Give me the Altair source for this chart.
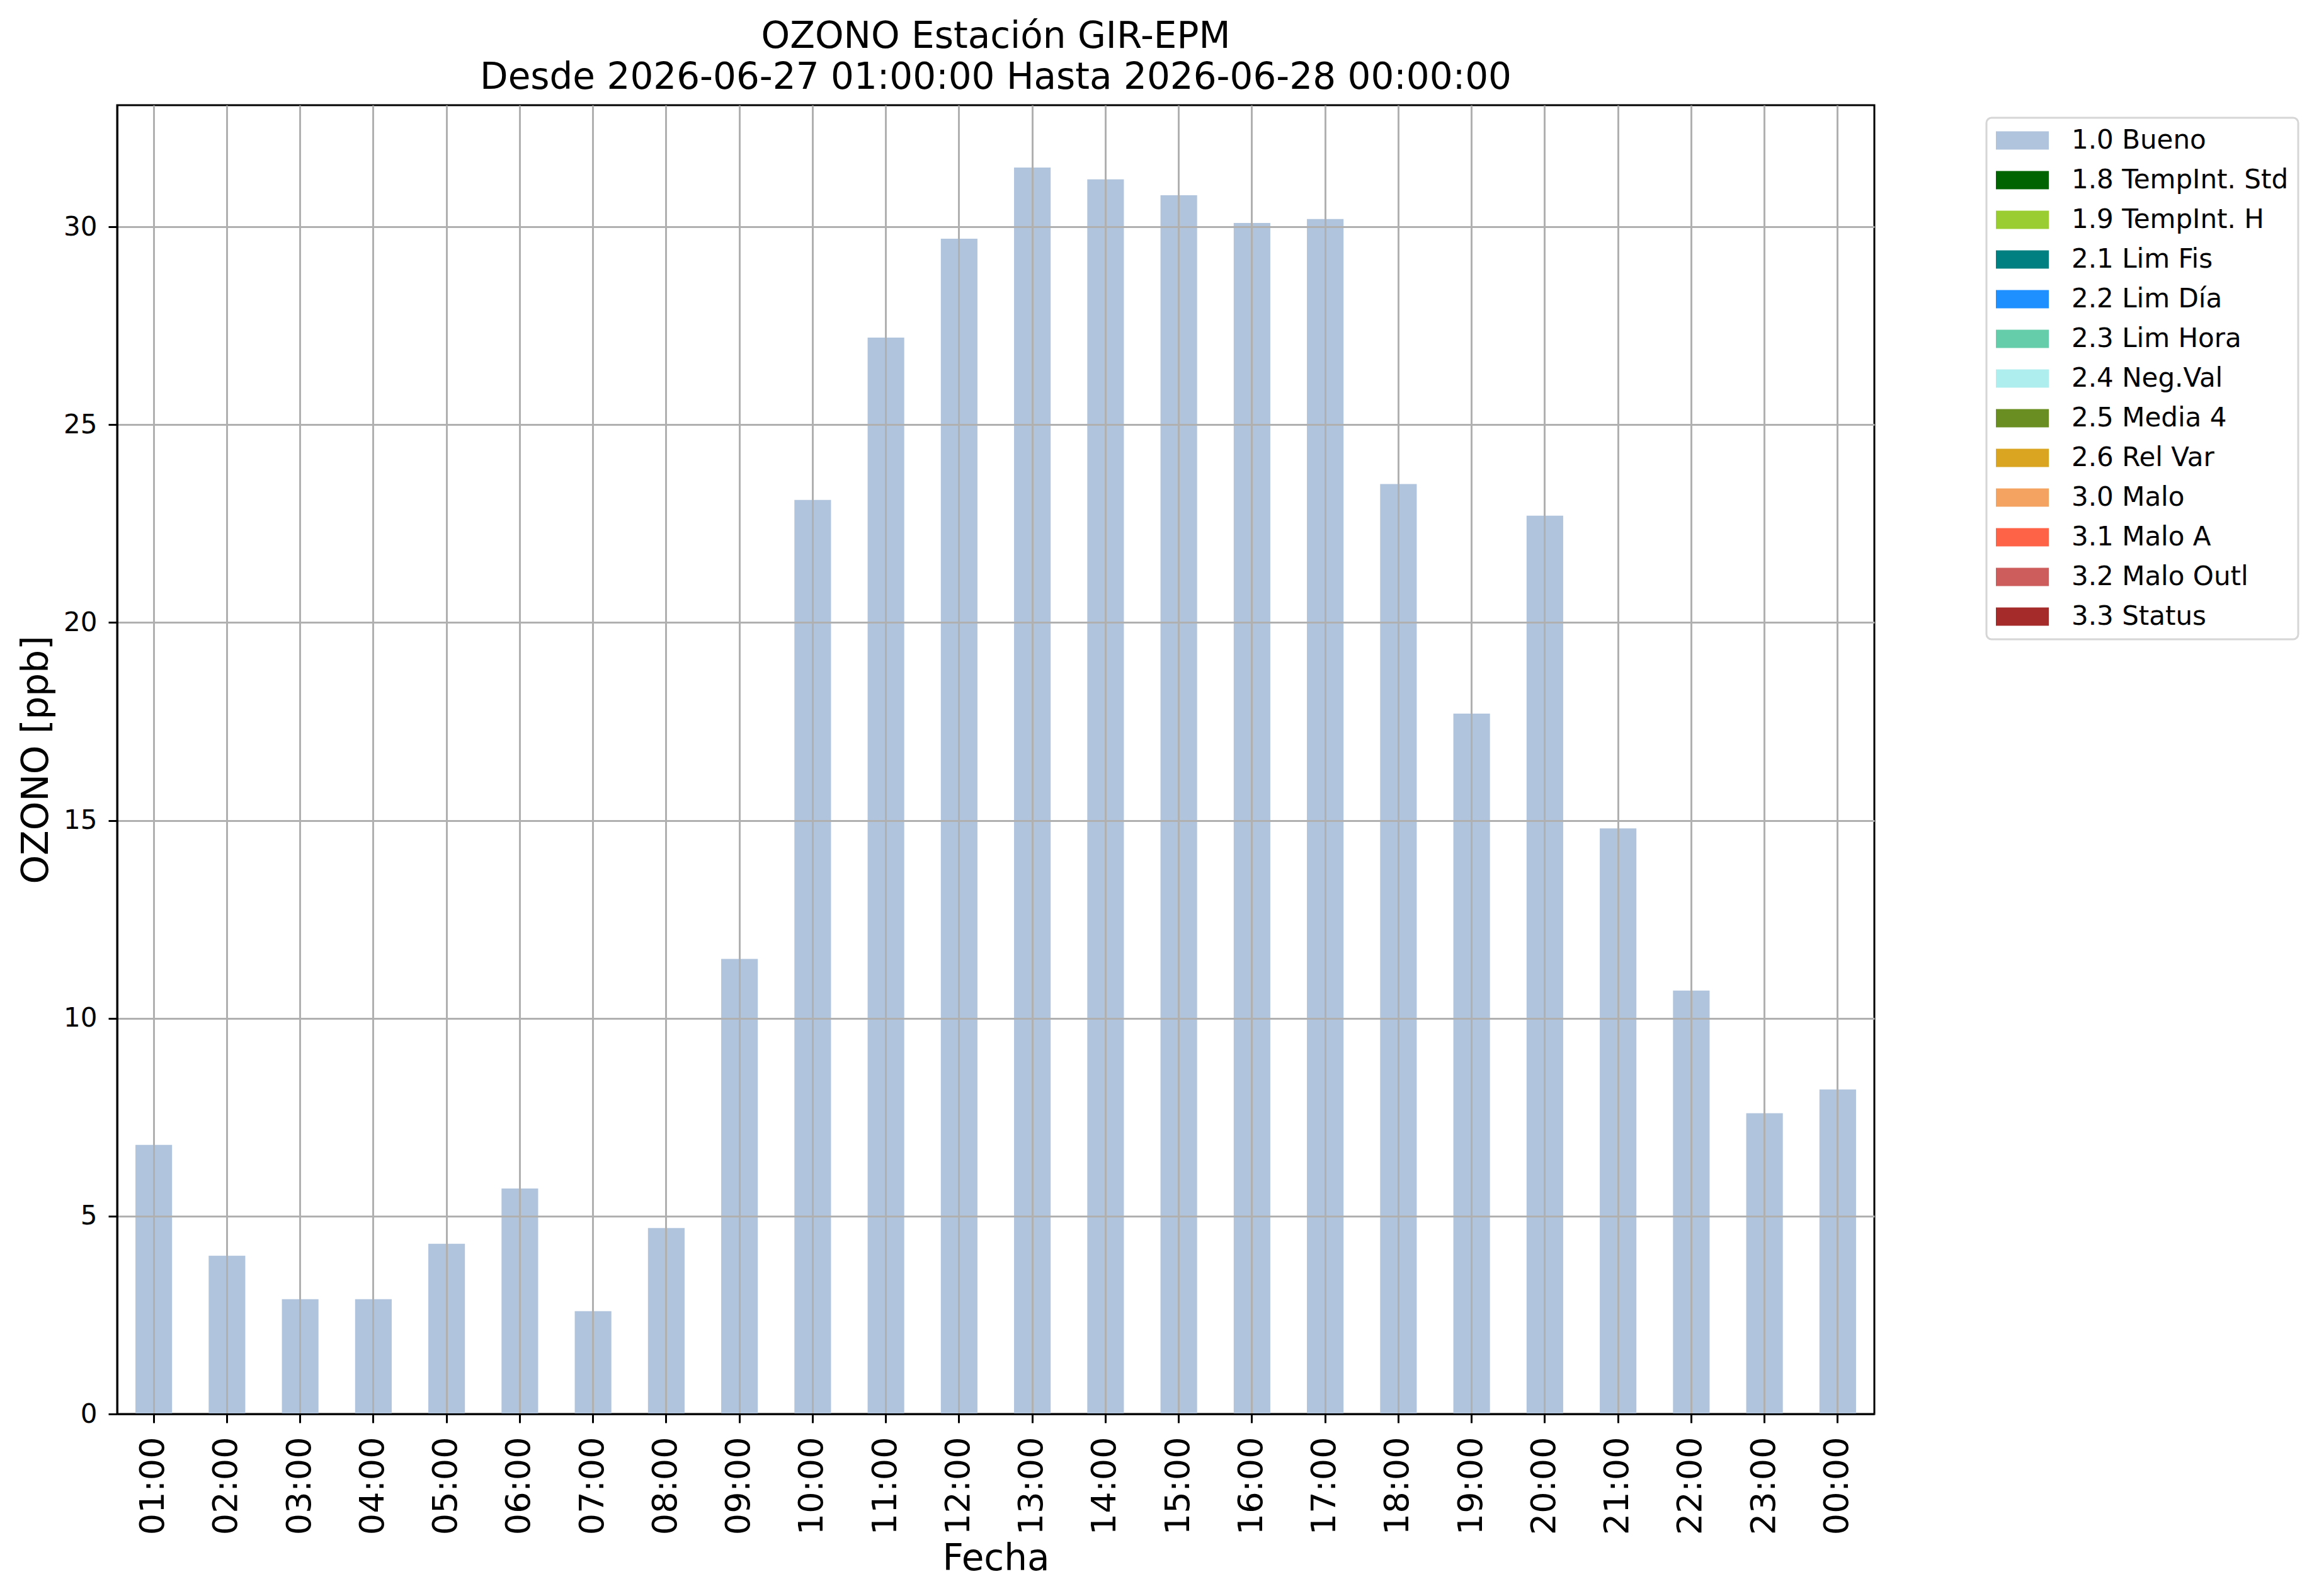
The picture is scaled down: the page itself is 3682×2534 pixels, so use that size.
import altair as alt
import pandas as pd

horas = ["01:00", "02:00", "03:00", "04:00", "05:00", "06:00", "07:00", "08:00",
         "09:00", "10:00", "11:00", "12:00", "13:00", "14:00", "15:00", "16:00",
         "17:00", "18:00", "19:00", "20:00", "21:00", "22:00", "23:00", "00:00"]
ozono = [6.8, 4.0, 2.9, 2.9, 4.3, 5.7, 2.6, 4.7, 11.5, 23.1, 27.2, 29.7,
         31.5, 31.2, 30.8, 30.1, 30.2, 23.5, 17.7, 22.7, 14.8, 10.7, 7.6, 8.2]
banderas = ["1.0 Bueno"] * 24

leyenda = ["1.0 Bueno", "1.8 TempInt. Std", "1.9 TempInt. H", "2.1 Lim Fis",
           "2.2 Lim Día", "2.3 Lim Hora", "2.4 Neg.Val", "2.5 Media 4",
           "2.6 Rel Var", "3.0 Malo", "3.1 Malo A", "3.2 Malo Outl", "3.3 Status"]
colores = ["#b0c4de", "#006400", "#9acd32", "#008080", "#1e90ff", "#66cdaa",
           "#afeeee", "#6b8e23", "#daa520", "#f4a460", "#ff6347", "#cd5c5c",
           "#a52a2a"]

df = pd.DataFrame({"hora": horas, "valor": ozono, "bandera": banderas})

FONT = "DejaVu Sans"
W, H = 2790, 2078

chart = alt.Chart(df).mark_bar().encode(
    x=alt.X("hora:N", sort=horas,
            scale=alt.Scale(paddingInner=0.5, paddingOuter=0.25),
            axis=alt.Axis(title="Fecha", labelAngle=-90, labelFontSize=54,
                          labelPadding=22, titleY=247, titleBaseline="alphabetic",
                          zindex=1)),
    y=alt.Y("valor:Q", scale=alt.Scale(domain=[0, 33.075], nice=False, zero=True),
            axis=alt.Axis(title="OZONO [ppb]", values=[0, 5, 10, 15, 20, 25, 30],
                          labelFontSize=42, labelPadding=18,
                          titleX=-111, titleY=H / 2, titleAlign="center",
                          titleBaseline="alphabetic", zindex=1)),
    color=alt.Color("bandera:N",
                    scale=alt.Scale(domain=leyenda, range=colores),
                    legend=alt.Legend(title=None, orient="none",
                                      legendX=2968, legendY=20,
                                      direction="vertical")),
).properties(
    width=W, height=H,
    title=alt.TitleParams(
        text=["OZONO Estación GIR-EPM",
              "Desde 2026-06-27 01:00:00 Hasta 2026-06-28 00:00:00"],
        fontSize=58, font=FONT, fontWeight="normal", lineHeight=65,
        anchor="middle", frame="group", offset=14, color="black"),
    autosize=alt.AutoSizeParams(type="none"),
    padding={"left": 178, "top": 159, "right": 690, "bottom": 280},
).configure_view(
    stroke="black", strokeWidth=3
).configure_axis(
    labelFont=FONT, titleFont=FONT, titleFontSize=58, titleFontWeight="normal",
    labelColor="black", titleColor="black",
    grid=True, gridColor="#b0b0b0", gridWidth=3,
    domainColor="black", domainWidth=3,
    tickColor="black", tickWidth=3, tickSize=14,
    labelOverlap=False,
).configure_legend(
    labelFont=FONT, labelFontSize=42, labelColor="black",
    symbolType="M-1,-0.69H3V0.69H-1Z", symbolSize=1764,
    symbolStrokeWidth=0, labelOffset=78, rowPadding=21,
    padding=15, strokeColor="#d6d6d6", strokeWidth=3, cornerRadius=8,
    fillColor="white", labelLimit=0,
)

chart.save("out.html", embed_options={"renderer": "svg", "actions": False})
